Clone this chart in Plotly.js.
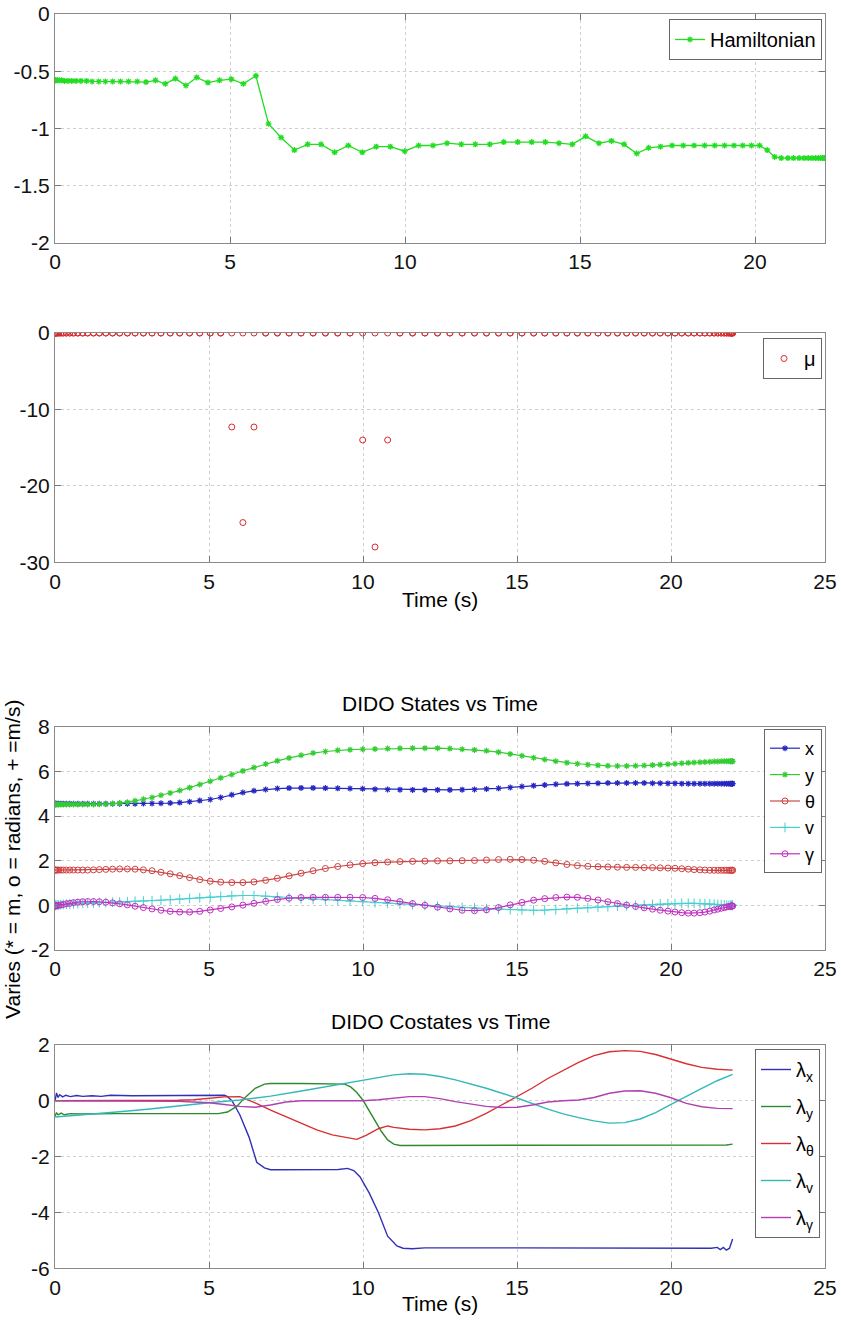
<!DOCTYPE html>
<html><head><meta charset="utf-8">
<script src="https://cdn.plot.ly/plotly-3.0.1.min.js"></script>
<style>body{margin:0;background:#fff}#chart{width:841px;height:1321px}</style>
</head><body><div id="chart"></div>
<script>
// ---------- DATA ----------
const time = [0.00,0.01,0.03,0.07,0.12,0.19,0.27,0.37,0.48,0.60,
 0.74,0.90,1.06,1.25,1.44,1.65,1.87,2.10,2.35,2.60,
 2.87,3.15,3.44,3.74,4.05,4.37,4.70,5.04,5.38,5.74,
 6.10,6.46,6.84,7.22,7.60,7.99,8.38,8.78,9.18,9.58,
 9.99,10.39,10.80,11.20,11.61,12.01,12.42,12.82,13.22,13.62,
 14.01,14.40,14.78,15.16,15.54,15.90,16.26,16.62,16.96,17.30,
 17.63,17.95,18.26,18.56,18.85,19.13,19.40,19.65,19.90,20.13,
 20.35,20.56,20.75,20.94,21.10,21.26,21.40,21.52,21.63,21.73,
 21.81,21.88,21.93,21.97,21.99,22.00];

const hamiltonian = [-0.58,-0.58,-0.58,-0.58,-0.58,-0.58,-0.585,-0.585,-0.585,-0.585,
 -0.585,-0.585,-0.59,-0.59,-0.59,-0.59,-0.59,-0.59,-0.59,-0.595,
 -0.58,-0.61,-0.565,-0.625,-0.555,-0.60,-0.58,-0.57,-0.61,-0.54,
 -0.96,-1.08,-1.19,-1.14,-1.14,-1.21,-1.15,-1.21,-1.16,-1.16,
 -1.20,-1.15,-1.15,-1.13,-1.14,-1.14,-1.14,-1.12,-1.12,-1.12,
 -1.12,-1.13,-1.14,-1.07,-1.13,-1.11,-1.14,-1.22,-1.17,-1.16,
 -1.15,-1.15,-1.15,-1.15,-1.15,-1.15,-1.15,-1.15,-1.15,-1.15,
 -1.19,-1.25,-1.26,-1.26,-1.26,-1.26,-1.26,-1.26,-1.26,-1.26,
 -1.26,-1.26,-1.26,-1.26,-1.26,-1.26];

// two path-constraint multipliers, both drawn as "μ"
const mu1 = [0,0,0,0,0,0,0,0,0,0,
 0,0,0,0,0,0,0,0,0,0,
 0,0,0,0,0,0,0,0,0,0,
 0,0,0,0,0,0,0,0,0,0,
 0,0,0,0,0,0,0,0,0,0,
 0,0,0,0,0,0,0,0,0,0,
 0,0,0,0,0,0,0,0,0,0,
 0,0,0,0,0,0,0,0,0,0,
 0,0,0,0,0,0];
const mu2 = [0,0,0,0,0,0,0,0,0,0,
 0,0,0,0,0,0,0,0,0,0,
 0,0,0,0,0,0,0,0,0,-12.3,
 -24.8,-12.3,0,0,0,0,0,0,0,0,
 -14,-28,-14,0,0,0,0,0,0,0,
 0,0,0,0,0,0,0,0,0,0,
 0,0,0,0,0,0,0,0,0,0,
 0,0,0,0,0,0,0,0,0,0,
 0,0,0,0,0,0];

const stateX = [4.55,4.55,4.55,4.55,4.55,4.55,4.55,4.55,4.55,4.55,
 4.55,4.55,4.55,4.55,4.55,4.55,4.55,4.55,4.55,4.55,
 4.56,4.56,4.57,4.58,4.60,4.64,4.69,4.74,4.83,4.95,
 5.05,5.13,5.19,5.23,5.25,5.26,5.26,5.25,5.24,5.23,
 5.22,5.20,5.19,5.18,5.17,5.17,5.17,5.17,5.18,5.19,
 5.21,5.24,5.28,5.32,5.36,5.39,5.42,5.44,5.45,5.46,
 5.47,5.48,5.48,5.48,5.48,5.48,5.47,5.47,5.46,5.46,
 5.45,5.45,5.45,5.45,5.45,5.45,5.45,5.45,5.45,5.45,
 5.45,5.45,5.45,5.45,5.45,5.45];

const stateY = [4.52,4.52,4.52,4.52,4.52,4.52,4.52,4.52,4.52,4.52,
 4.52,4.52,4.52,4.52,4.53,4.53,4.55,4.58,4.62,4.68,
 4.75,4.83,4.93,5.03,5.14,5.27,5.41,5.56,5.71,5.86,
 6.02,6.17,6.33,6.47,6.60,6.72,6.82,6.89,6.94,6.97,
 6.99,7.00,7.02,7.03,7.04,7.04,7.04,7.02,6.99,6.96,
 6.92,6.86,6.78,6.70,6.61,6.53,6.45,6.39,6.34,6.30,
 6.27,6.25,6.24,6.24,6.25,6.26,6.28,6.30,6.32,6.34,
 6.36,6.38,6.40,6.41,6.42,6.43,6.44,6.44,6.45,6.45,
 6.45,6.45,6.45,6.45,6.45,6.45];

const stateTheta = [1.58,1.58,1.58,1.58,1.58,1.58,1.58,1.58,1.58,1.58,
 1.58,1.58,1.58,1.59,1.60,1.61,1.62,1.63,1.63,1.62,
 1.59,1.55,1.48,1.41,1.33,1.24,1.15,1.08,1.04,1.02,
 1.02,1.05,1.12,1.21,1.32,1.44,1.55,1.65,1.74,1.81,
 1.87,1.91,1.94,1.96,1.97,1.98,1.99,1.99,2.00,2.01,
 2.03,2.05,2.06,2.05,2.02,1.97,1.90,1.83,1.78,1.75,
 1.73,1.72,1.71,1.70,1.70,1.69,1.69,1.68,1.67,1.66,
 1.64,1.62,1.60,1.59,1.58,1.57,1.57,1.57,1.57,1.57,
 1.57,1.57,1.57,1.57,1.57,1.57];

const stateV = [0.00,0.00,0.01,0.01,0.02,0.03,0.04,0.05,0.06,0.07,
 0.08,0.09,0.10,0.11,0.12,0.13,0.14,0.15,0.16,0.18,
 0.19,0.21,0.23,0.25,0.28,0.31,0.34,0.37,0.40,0.43,
 0.44,0.44,0.41,0.37,0.33,0.30,0.27,0.25,0.22,0.19,
 0.16,0.12,0.09,0.06,0.03,0.00,-0.04,-0.07,-0.10,-0.12,
 -0.15,-0.17,-0.19,-0.21,-0.22,-0.21,-0.19,-0.16,-0.13,-0.11,
 -0.08,-0.06,-0.04,-0.02,0.00,0.02,0.04,0.06,0.07,0.08,
 0.09,0.09,0.09,0.08,0.07,0.06,0.05,0.04,0.03,0.02,
 0.01,0.00,0.00,0.00,0.00,0.00];

const stateGamma = [-0.03,-0.03,-0.02,-0.01,0.00,0.02,0.04,0.07,0.09,0.12,
 0.14,0.16,0.17,0.17,0.16,0.14,0.11,0.07,0.02,-0.04,
 -0.10,-0.16,-0.22,-0.27,-0.30,-0.30,-0.27,-0.21,-0.14,-0.07,
 0.01,0.09,0.18,0.26,0.32,0.35,0.36,0.36,0.36,0.36,
 0.35,0.31,0.25,0.17,0.08,0.00,-0.08,-0.16,-0.22,-0.24,
 -0.20,-0.10,0.02,0.13,0.23,0.30,0.35,0.37,0.36,0.31,
 0.24,0.16,0.08,0.01,-0.05,-0.11,-0.17,-0.22,-0.26,-0.30,
 -0.33,-0.35,-0.35,-0.33,-0.30,-0.26,-0.21,-0.17,-0.13,-0.10,
 -0.07,-0.05,-0.04,-0.03,-0.03,-0.03];

// Costates (lines only)
const lamXT = [0,0.05,0.1,0.15,0.25,0.35,0.5,0.7,0.9,1.2,1.5,1.8,2.5,4,5.3,5.5,5.6,5.75,6.0,6.3,6.55,6.8,7.0,7.5,8.5,9.2,9.5,9.7,9.9,10.2,10.5,10.8,11.1,11.3,11.6,12,15,20,21.3,21.5,21.6,21.7,21.8,21.9,21.95,22];
const lamX  = [0.0,0.28,0.12,0.22,0.14,0.2,0.15,0.19,0.16,0.18,0.16,0.2,0.18,0.18,0.18,0.2,0.15,0.0,-0.5,-1.3,-2.2,-2.4,-2.47,-2.47,-2.47,-2.46,-2.42,-2.5,-2.72,-3.3,-4.0,-4.85,-5.2,-5.28,-5.3,-5.27,-5.27,-5.27,-5.28,-5.25,-5.33,-5.25,-5.35,-5.28,-5.1,-4.95];

const lamYT = [0,0.05,0.1,0.2,0.3,0.5,0.8,1.2,2,4,5.3,5.6,5.9,6.2,6.5,6.8,7.0,8,9.4,9.6,9.8,10.0,10.2,10.4,10.6,10.8,11.0,11.2,12,15,21,21.6,21.8,22];
const lamY  = [-0.55,-0.42,-0.5,-0.44,-0.5,-0.46,-0.47,-0.46,-0.46,-0.46,-0.46,-0.4,-0.2,0.15,0.45,0.6,0.62,0.62,0.6,0.5,0.3,0.02,-0.35,-0.75,-1.1,-1.4,-1.55,-1.6,-1.6,-1.6,-1.6,-1.6,-1.58,-1.55];

const lamThT = [0,1,2,3,4,4.5,5,5.5,6,6.5,7,7.5,8,8.5,9,9.5,9.8,10.1,10.5,10.8,11,11.5,12,12.5,13,13.5,14,14.5,15,15.5,16,16.5,17,17.5,18,18.5,19,19.5,20,20.5,21,21.5,22];
const lamTh  = [0.0,0.0,0.0,0.0,0.02,0.04,0.08,0.14,0.15,-0.07,-0.33,-0.57,-0.81,-1.04,-1.22,-1.32,-1.38,-1.24,-1.0,-0.9,-0.95,-1.02,-1.04,-1.0,-0.9,-0.71,-0.45,-0.15,0.15,0.46,0.8,1.1,1.38,1.62,1.76,1.8,1.77,1.66,1.5,1.33,1.2,1.13,1.1];

const lamVT = [0,1,2,3,4,5,6,7,8,9,10,10.5,11,11.5,12,12.5,13,14,15,16,16.5,17,17.5,18,18.5,19,19.5,20,20.5,21,21.5,22];
const lamV  = [-0.58,-0.5,-0.4,-0.3,-0.18,-0.07,0.03,0.17,0.35,0.55,0.75,0.85,0.93,0.97,0.95,0.87,0.75,0.45,0.1,-0.3,-0.47,-0.6,-0.72,-0.8,-0.78,-0.65,-0.42,-0.13,0.17,0.45,0.72,0.95];

const lamGT = [0,1,2,3,4,4.5,5,5.5,6,6.5,7,7.5,8,9,10,10.5,11,11.5,12,12.5,13,13.5,14,14.5,15,15.5,16,16.5,17,17.5,18,18.5,19,19.5,20,20.5,21,21.5,22];
const lamG  = [0.0,0.0,0.0,0.0,-0.02,-0.04,-0.07,-0.13,-0.2,-0.23,-0.15,-0.04,0.0,0.0,0.0,0.04,0.09,0.15,0.15,0.08,-0.03,-0.12,-0.2,-0.24,-0.23,-0.15,-0.04,0.0,0.03,0.12,0.27,0.35,0.36,0.27,0.11,-0.09,-0.21,-0.27,-0.28];

// Tick values / labels
const xTicks1 = [0,5,10,15,20];
const xTicks = [0,5,10,15,20,25];
const yTicks1 = [-2,-1.5,-1,-0.5,0];
const yTicks1Text = ['-2','-1.5','-1','-0.5','0'];
const yTicks2 = [-30,-20,-10,0];
const yTicks2Text = ['-30','-20','-10','0'];
const yTicks3 = [-2,0,2,4,6,8];
const yTicks3Text = ['-2','0','2','4','6','8'];
const yTicks4 = [-6,-4,-2,0,2];
const yTicks4Text = ['-6','-4','-2','0','2'];

// ---------- STYLE ----------
const FONT = 'Liberation Sans, Arial, Helvetica, sans-serif';
const W = 841, H = 1321;
const xDom = [55/W, 825/W];
function yDom(top, bottom){ return [1 - bottom/H, 1 - top/H]; }

function axis(extra){
  return Object.assign({
    ticks:'inside', ticklen:6, tickcolor:'#777', tickwidth:1,
    showline:true, linecolor:'#8a8a8a', linewidth:1, mirror:'ticks',
    showgrid:true, gridcolor:'#cfcfcf', griddash:'dot', gridwidth:1,
    zeroline:false, tickfont:{family:FONT, size:21, color:'#111'},
    tickmode:'array', fixedrange:true
  }, extra);
}

const cH = '#22dd22';
const cMu = '#dd2a2a';
const traces = [
  {x:time, y:hamiltonian, mode:'lines+markers', name:'Hamiltonian', xaxis:'x', yaxis:'y', legend:'legend',
   line:{color:cH, width:1.3}, marker:{symbol:'asterisk-open', size:5, color:cH, line:{color:cH, width:1.3}}},
  {x:time, y:mu1, mode:'markers', name:'μ', xaxis:'x2', yaxis:'y2', legend:'legend2',
   marker:{symbol:'circle-open', size:6, color:cMu, line:{color:cMu, width:1}}},
  {x:time, y:mu2, mode:'markers', name:'μ', showlegend:false, xaxis:'x2', yaxis:'y2', legend:'legend2',
   marker:{symbol:'circle-open', size:6, color:cMu, line:{color:cMu, width:1}}},

  {x:time, y:stateX, mode:'lines+markers', name:'x', xaxis:'x3', yaxis:'y3', legend:'legend3',
   line:{color:'#2626c0', width:1.2}, marker:{symbol:'asterisk-open', size:5, color:'#2626c0', line:{color:'#2626c0', width:1.2}}},
  {x:time, y:stateY, mode:'lines+markers', name:'y', xaxis:'x3', yaxis:'y3', legend:'legend3',
   line:{color:'#33cc33', width:1.2}, marker:{symbol:'asterisk-open', size:5, color:'#33cc33', line:{color:'#33cc33', width:1.2}}},
  {x:time, y:stateTheta, mode:'lines+markers', name:'θ', xaxis:'x3', yaxis:'y3', legend:'legend3',
   line:{color:'#c84848', width:1.2}, marker:{symbol:'circle-open', size:6, color:'#d04040', line:{color:'#d04040', width:1}}},
  {x:time, y:stateV, mode:'lines+markers', name:'v', xaxis:'x3', yaxis:'y3', legend:'legend3',
   line:{color:'#44d0d0', width:1.2}, marker:{symbol:'cross-thin-open', size:7, color:'#44d0d0', line:{color:'#44d0d0', width:1}}},
  {x:time, y:stateGamma, mode:'lines+markers', name:'γ', xaxis:'x3', yaxis:'y3', legend:'legend3',
   line:{color:'#c030c0', width:1.2}, marker:{symbol:'circle-open', size:6, color:'#c030c0', line:{color:'#c030c0', width:1}}},

  {x:lamXT, y:lamX, mode:'lines', name:'λ<sub>x</sub>', legendgroup:'a', xaxis:'x4', yaxis:'y4', legend:'legend4', line:{color:'#3030b8', width:1.4}},
  {x:lamYT, y:lamY, mode:'lines', name:'λ<sub>y</sub>', legendgroup:'b', xaxis:'x4', yaxis:'y4', legend:'legend4', line:{color:'#2e8a2e', width:1.4}},
  {x:lamThT, y:lamTh, mode:'lines', name:'λ<sub>θ</sub>', legendgroup:'c', xaxis:'x4', yaxis:'y4', legend:'legend4', line:{color:'#d83030', width:1.4}},
  {x:lamVT, y:lamV, mode:'lines', name:'λ<sub>v</sub>', legendgroup:'d', xaxis:'x4', yaxis:'y4', legend:'legend4', line:{color:'#33b8b8', width:1.4}},
  {x:lamGT, y:lamG, mode:'lines', name:'λ<sub>γ</sub>', legendgroup:'e', xaxis:'x4', yaxis:'y4', legend:'legend4', line:{color:'#b040b0', width:1.4}}
];

function legendBox(x, y, size, gap){
  return {x:x, y:y, xanchor:'right', yanchor:'top', xref:'paper', yref:'paper',
    bgcolor:'#ffffff', bordercolor:'#666', borderwidth:1,
    font:{family:FONT, size:size, color:'#000'}, itemwidth:30, tracegroupgap:gap};
}

const layout = {
  width:W, height:H, margin:{l:0, r:0, t:0, b:0},
  paper_bgcolor:'#fff', plot_bgcolor:'#fff',
  font:{family:FONT, size:20, color:'#000'},
  showlegend:true,
  xaxis:  axis({domain:xDom, range:[0,22], tickvals:xTicks1, ticktext:xTicks1.map(String), anchor:'y'}),
  yaxis:  axis({domain:yDom(14,242.7), range:[-2,0], tickvals:yTicks1, ticktext:yTicks1Text, anchor:'x'}),
  xaxis2: axis({domain:xDom, range:[0,25], tickvals:xTicks, ticktext:xTicks.map(String), anchor:'y2'}),
  yaxis2: axis({domain:yDom(333,562.3), range:[-30,0], tickvals:yTicks2, ticktext:yTicks2Text, anchor:'x2'}),
  xaxis3: axis({domain:xDom, range:[0,25], tickvals:xTicks, ticktext:xTicks.map(String), anchor:'y3'}),
  yaxis3: axis({domain:yDom(726.7,950), range:[-2,8], tickvals:yTicks3, ticktext:yTicks3Text, anchor:'x3'}),
  xaxis4: axis({domain:xDom, range:[0,25], tickvals:xTicks, ticktext:xTicks.map(String), anchor:'y4'}),
  yaxis4: axis({domain:yDom(1045,1268.3), range:[-6,2], tickvals:yTicks4, ticktext:yTicks4Text, anchor:'x4'}),
  legend:  legendBox(822/W, 1-19/H, 20, 0),
  legend2: legendBox(822/W, 1-338/H, 20, 0),
  legend3: legendBox(822/W, 1-729/H, 18, 0),
  legend4: legendBox(820/W, 1-1049/H, 20, 8),
  annotations:[
    {text:'Time (s)', x:440/W, y:1-599/H, xref:'paper', yref:'paper', xanchor:'center', yanchor:'middle', showarrow:false, font:{family:FONT, size:21}},
    {text:'DIDO States vs Time', x:440/W, y:1-703/H, xref:'paper', yref:'paper', xanchor:'center', yanchor:'middle', showarrow:false, font:{family:FONT, size:21}},
    {text:'DIDO Costates vs Time', x:440/W, y:1-1022/H, xref:'paper', yref:'paper', xanchor:'center', yanchor:'middle', showarrow:false, font:{family:FONT, size:21}},
    {text:'Time (s)', x:440/W, y:1-1303/H, xref:'paper', yref:'paper', xanchor:'center', yanchor:'middle', showarrow:false, font:{family:FONT, size:21}},
    {text:'Varies (* = m, o = radians, + =m/s)', x:12/W, y:1-860/H, xref:'paper', yref:'paper', xanchor:'center', yanchor:'middle', textangle:-90, showarrow:false, font:{family:FONT, size:21}}
  ]
};

Plotly.newPlot('chart', traces, layout, {staticPlot:true, displayModeBar:false});
</script>
</body></html>
